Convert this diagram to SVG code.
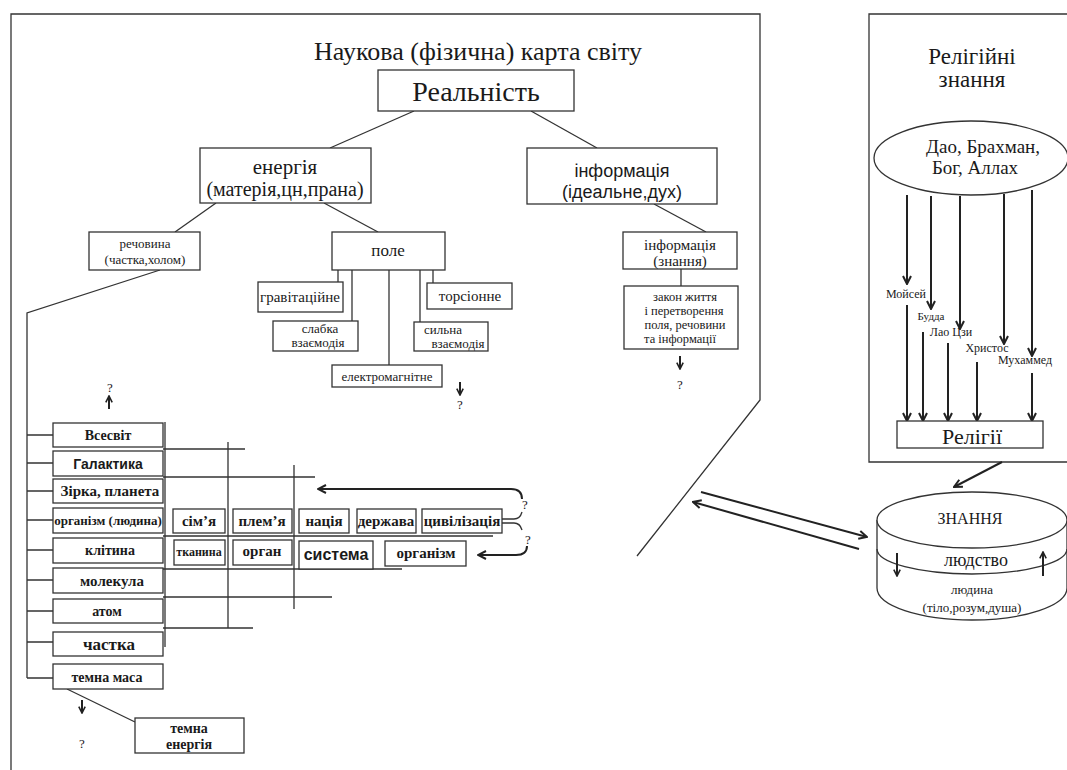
<svg xmlns="http://www.w3.org/2000/svg" width="1067" height="770" viewBox="0 0 1067 770">
<defs>
<style>
.bx{fill:#fff;stroke:#333;stroke-width:1.3}
.ln{fill:none;stroke:#333;stroke-width:1.3}
.th{fill:none;stroke:#222;stroke-width:2}
.s{font-family:"Liberation Serif","Times New Roman",serif;fill:#1a1a1a;text-anchor:middle}
.sb{font-family:"Liberation Serif","Times New Roman",serif;fill:#1a1a1a;text-anchor:middle;font-weight:bold}
.a{font-family:"Liberation Sans",Arial,sans-serif;fill:#1a1a1a;text-anchor:middle}
.ab{font-family:"Liberation Sans",Arial,sans-serif;fill:#1a1a1a;text-anchor:middle;font-weight:bold}
</style>
<marker id="ah" viewBox="0 0 10 10" refX="9" refY="5" markerWidth="10" markerHeight="10" markerUnits="userSpaceOnUse" orient="auto"><path d="M1,1 L9,5 L1,9" fill="none" stroke="#222" stroke-width="2"/></marker>
<marker id="ahs" viewBox="0 0 10 10" refX="9" refY="5" markerWidth="8" markerHeight="8" markerUnits="userSpaceOnUse" orient="auto"><path d="M1,1 L9,5 L1,9" fill="none" stroke="#222" stroke-width="2"/></marker>
</defs>
<rect width="1067" height="770" fill="#fff"/>

<g id="frame">
<path class="ln" d="M11,770 L11,14 L760,14 L760,400 L637,556"/>
<path class="ln" d="M1067,14 L869,14 L869,462 L1067,462"/>
<text class="s" x="478" y="60" font-size="26">Наукова (фізична) карта світу</text>
<text class="s" x="972" y="64" font-size="23">Релігійні</text>
<text class="s" x="972" y="87" font-size="23">знання</text>
</g>

<g id="connectors">
<line class="ln" x1="414" y1="111" x2="330" y2="148"/>
<line class="ln" x1="531" y1="111" x2="597" y2="148"/>
<line class="ln" x1="216" y1="203" x2="175" y2="232"/>
<line class="ln" x1="324" y1="203" x2="378" y2="232"/>
<line class="ln" x1="654" y1="204" x2="706" y2="232"/>
<line class="ln" x1="681" y1="269" x2="681" y2="286"/>
<line class="ln" x1="338" y1="270" x2="338" y2="282"/>
<line class="ln" x1="352" y1="270" x2="352" y2="321"/>
<line class="ln" x1="389" y1="270" x2="389" y2="365"/>
<line class="ln" x1="420" y1="270" x2="420" y2="322"/>
<line class="ln" x1="433" y1="270" x2="433" y2="283"/>
<path class="ln" d="M160,270 L27,313 L27,678"/>
<path class="ln" d="M27,435 H53 M27,463 H53 M27,491 H53 M27,520 H53 M27,550 H53 M27,580 H53 M27,611 H53 M27,642 H53 M27,678 H53"/>
<path class="ln" d="M165,422 V647"/>
<path class="ln" d="M163,449 H245 M163,477 H315 M163,536 H493 M163,569 H402 M163,597 H332 M163,628 H253"/>
<path class="ln" d="M228,442 V628 M294,465 V609"/>
<line class="ln" x1="67" y1="689" x2="135" y2="722"/>
<line class="th" x1="109" y1="409" x2="109" y2="396" marker-end="url(#ahs)"/>
<line class="th" x1="460" y1="382" x2="460" y2="395" marker-end="url(#ahs)"/>
<line class="th" x1="680" y1="356" x2="680" y2="369" marker-end="url(#ahs)"/>
<line class="th" x1="82" y1="700" x2="82" y2="713" marker-end="url(#ahs)"/>
<path class="th" d="M522,499 Q522,489 511,489 L318,489" marker-end="url(#ah)"/>
<path class="th" d="M527,546 Q527,555 516,555 L478,555" marker-end="url(#ah)"/>
<path class="ln" d="M502,519 L514,519 Q520,519 522,512 M502,523 L514,523 Q520,523 522,530" stroke-width="1.6"/>
<line class="th" x1="907" y1="195" x2="907" y2="284" marker-end="url(#ah)"/>
<line class="th" x1="931" y1="196" x2="931" y2="309" marker-end="url(#ah)"/>
<line class="th" x1="960" y1="196" x2="960" y2="329" marker-end="url(#ah)"/>
<line class="th" x1="1004" y1="194" x2="1004" y2="344" marker-end="url(#ah)"/>
<line class="th" x1="1032" y1="190" x2="1032" y2="356" marker-end="url(#ah)"/>
<line class="th" x1="907" y1="305" x2="907" y2="421" marker-end="url(#ah)"/>
<line class="th" x1="923" y1="332" x2="923" y2="421" marker-end="url(#ah)"/>
<line class="th" x1="948" y1="343" x2="948" y2="421" marker-end="url(#ah)"/>
<line class="th" x1="977" y1="362" x2="977" y2="421" marker-end="url(#ah)"/>
<line class="th" x1="1032" y1="373" x2="1032" y2="421" marker-end="url(#ah)"/>
<line class="th" x1="1002" y1="462" x2="954" y2="487" marker-end="url(#ah)"/>
<line class="th" x1="701" y1="492" x2="867" y2="537" marker-end="url(#ah)"/>
<line class="th" x1="859" y1="549" x2="693" y2="502" marker-end="url(#ah)"/>
</g>

<g id="n-realnist"><rect class="bx" x="378" y="70" width="196" height="41"/><text class="s" x="476" y="101" font-size="28">Реальність</text></g>
<g id="n-energy"><rect class="bx" x="200" y="148" width="171" height="55"/><text class="s" x="285" y="174" font-size="21">енергія</text><text class="s" x="285" y="196" font-size="20">(матерія,цн,прана)</text></g>
<g id="n-info"><rect class="bx" x="527" y="148" width="190" height="56"/><text class="a" x="622" y="177" font-size="18">інформація</text><text class="a" x="622" y="198" font-size="18">(ідеальне,дух)</text></g>
<g id="n-rechovyna"><rect class="bx" x="89" y="232" width="111" height="38"/><text class="s" x="145" y="248" font-size="13">речовина</text><text class="s" x="145" y="264" font-size="13">(частка,холом)</text></g>
<g id="n-pole"><rect class="bx" x="332" y="232" width="113" height="38"/><text class="s" x="388" y="256" font-size="17">поле</text></g>
<g id="n-grav"><rect class="bx" x="258" y="282" width="85" height="30"/><text class="s" x="300" y="302" font-size="15">гравітаційне</text></g>
<g id="n-torsion"><rect class="bx" x="427" y="283" width="85" height="26"/><text class="s" x="470" y="301" font-size="15">торсіонне</text></g>
<g id="n-slabka"><rect class="bx" x="273" y="321" width="85" height="30"/><text class="s" x="320" y="333" font-size="13">слабка</text><text class="s" x="318" y="347" font-size="13">взаємодія</text></g>
<g id="n-sylna"><rect class="bx" x="414" y="322" width="74" height="29"/><text class="s" x="443" y="334" font-size="13">сильна</text><text class="s" x="458" y="348" font-size="13">взаємодія</text></g>
<g id="n-elmag"><rect class="bx" x="332" y="365" width="110" height="22"/><text class="s" x="387" y="381" font-size="13">електромагнітне</text></g>
<g id="n-info2"><rect class="bx" x="623" y="232" width="114" height="37"/><text class="s" x="680" y="250" font-size="15">інформація</text><text class="s" x="680" y="266" font-size="15">(знання)</text></g>
<g id="n-zakon"><rect class="bx" x="624" y="286" width="114" height="63"/><text class="s" x="685" y="301" font-size="12.5">закон життя</text><text class="s" x="684" y="315" font-size="12.5">і перетворення</text><text class="s" x="685" y="329" font-size="12.5">поля, речовини</text><text class="s" x="680" y="343" font-size="12.5">та інформації</text></g>

<g id="q-labels">
<text class="s" x="110" y="392" font-size="13">?</text>
<text class="s" x="460" y="409" font-size="13">?</text>
<text class="s" x="680" y="389" font-size="13">?</text>
<text class="s" x="82" y="748" font-size="13">?</text>
<text class="s" x="525" y="509" font-size="13">?</text>
<text class="s" x="528" y="544" font-size="13">?</text>
</g>

<g id="n-vsesvit"><rect class="bx" x="53" y="423" width="110" height="24"/><text class="sb" x="108" y="440" font-size="14">Всесвіт</text></g>
<g id="n-galaktyka"><rect class="bx" x="53" y="451" width="110" height="25"/><text class="ab" x="108" y="469" font-size="14">Галактика</text></g>
<g id="n-zirka"><rect class="bx" x="53" y="479" width="110" height="24"/><text class="sb" x="110" y="496" font-size="15">Зірка, планета</text></g>
<g id="n-orhanizm"><rect class="bx" x="53" y="508" width="110" height="25"/><text class="sb" x="108" y="525" font-size="13">організм (людина)</text></g>
<g id="n-klityna"><rect class="bx" x="53" y="538" width="110" height="25"/><text class="sb" x="110" y="555" font-size="14">клітина</text></g>
<g id="n-molekula"><rect class="bx" x="53" y="568" width="110" height="25"/><text class="sb" x="112" y="586" font-size="15">молекула</text></g>
<g id="n-atom"><rect class="bx" x="53" y="599" width="110" height="24"/><text class="sb" x="107" y="616" font-size="14">атом</text></g>
<g id="n-chastka"><rect class="bx" x="53" y="632" width="110" height="24"/><text class="sb" x="109" y="650" font-size="17">частка</text></g>
<g id="n-temnamasa"><rect class="bx" x="53" y="664" width="110" height="25"/><text class="sb" x="107" y="682" font-size="14">темна маса</text></g>
<g id="n-temnaenergiya"><rect class="bx" x="135" y="718" width="109" height="35"/><text class="sb" x="189" y="733" font-size="14">темна</text><text class="sb" x="189" y="749" font-size="14">енергія</text></g>

<g id="n-simya"><rect class="bx" x="173" y="509" width="52" height="24"/><text class="sb" x="199" y="526" font-size="15">сім’я</text></g>
<g id="n-plemya"><rect class="bx" x="233" y="509" width="59" height="24"/><text class="sb" x="262" y="526" font-size="15">плем’я</text></g>
<g id="n-natsiya"><rect class="bx" x="299" y="509" width="50" height="24"/><text class="sb" x="324" y="526" font-size="15">нація</text></g>
<g id="n-derzhava"><rect class="bx" x="357" y="509" width="59" height="24"/><text class="sb" x="386" y="526" font-size="15">держава</text></g>
<g id="n-tsyvilizatsiya"><rect class="bx" x="422" y="509" width="80" height="24"/><text class="sb" x="462" y="526" font-size="15">цивілізація</text></g>
<g id="n-tkanyna"><rect class="bx" x="174" y="540" width="51" height="25"/><text class="sb" x="199" y="556" font-size="12">тканина</text></g>
<g id="n-orhan"><rect class="bx" x="233" y="540" width="59" height="25"/><text class="sb" x="262" y="556" font-size="15">орган</text></g>
<g id="n-systema"><rect class="bx" x="299" y="541" width="74" height="28"/><text class="ab" x="336" y="560" font-size="16">система</text></g>
<g id="n-orhanizm2"><rect class="bx" x="385" y="541" width="81" height="25"/><text class="sb" x="426" y="558" font-size="15">організм</text></g>

<g id="n-bog"><ellipse class="bx" cx="971" cy="158" rx="97" ry="37"/><text class="s" x="983" y="153" font-size="19">Дао, Брахман,</text><text class="s" x="975" y="174" font-size="19">Бог, Аллах</text></g>
<g id="religion-labels">
<text class="s" x="906" y="298" font-size="12">Мойсей</text>
<text class="s" x="931" y="320" font-size="11">Будда</text>
<text class="s" x="951" y="336" font-size="12">Лао Цзи</text>
<text class="s" x="987" y="352" font-size="12">Христос</text>
<text class="s" x="1025" y="364" font-size="12">Мухаммед</text>
</g>
<g id="n-religii"><rect class="bx" x="897" y="421" width="146" height="27"/><text class="s" x="972" y="444" font-size="22">Релігії</text></g>

<g id="n-cylinder">
<path class="bx" d="M877,520 L877,588 A95,32 0 0 0 1067,588 L1067,520"/>
<ellipse class="bx" cx="972" cy="520" rx="95" ry="28"/>
<path class="ln" d="M877,549 A95,25 0 0 0 1067,549"/>
<text class="s" x="970" y="524" font-size="16">ЗНАННЯ</text>
<text class="s" x="976" y="566" font-size="18">людство</text>
<text class="s" x="972" y="594" font-size="13">людина</text>
<text class="s" x="972" y="612" font-size="13">(тіло,розум,душа)</text>
<line class="th" x1="897" y1="553" x2="897" y2="576" marker-end="url(#ahs)"/>
<line class="th" x1="1043" y1="576" x2="1043" y2="552" marker-end="url(#ahs)"/>
</g>
</svg>
